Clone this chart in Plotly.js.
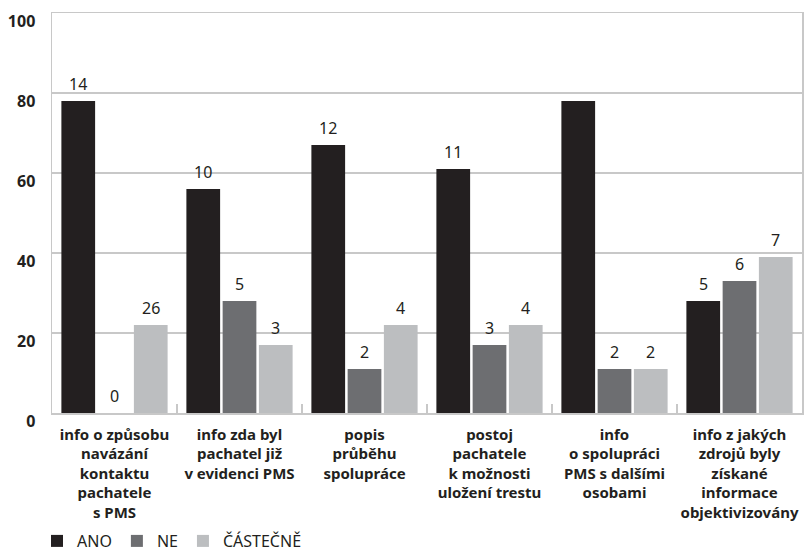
<!DOCTYPE html>
<html>
<head>
<meta charset="utf-8">
<script src="https://cdn.plot.ly/plotly-3.0.1.min.js"></script>
<style>html,body{margin:0;padding:0;background:#fff;}#chart{width:806px;height:556px;}</style>
</head>
<body>
<div id="chart"></div>
<script>
const categories = [
  "info o způsobu<br>navázání<br>kontaktu<br>pachatele<br>s PMS",
  "info zda byl<br>pachatel již<br>v evidenci PMS",
  "popis<br>průběhu<br>spolupráce",
  "postoj<br>pachatele<br>k možnosti<br>uložení trestu",
  "info<br>o spolupráci<br>PMS s dalšími<br>osobami",
  "info z jakých<br>zdrojů byly<br>získané<br>informace<br>objektivizovány"
];
const seriesNames = ["ANO", "NE", "ČÁSTEČNĚ"];
const anoValues = [78, 56, 67, 61, 78, 28];
const neValues = [0, 28, 11, 17, 11, 33];
const castecneValues = [22, 17, 22, 22, 11, 39];
const anoLabels = ["14", "10", "12", "11", "", "5"];
const neLabels = ["0", "5", "2", "3", "2", "6"];
const castecneLabels = ["26", "3", "4", "4", "2", "7"];
const yTicks = [0, 20, 40, 60, 80, 100];

const colors = ["#231f20", "#6d6e71", "#bcbec0"];
const FONT = "Noto Sans, sans-serif";
const values = [anoValues, neValues, castecneValues];
const labels = [anoLabels, neLabels, castecneLabels];

const traces = values.map((v, i) => ({
  type: "bar",
  name: seriesNames[i],
  x: categories,
  y: v,
  marker: {color: colors[i]},
  hoverinfo: "skip"
}));

const plotW = 806 - 52 - 4;
const groupW = plotW / categories.length;
const bargap = 0.13;
const slotW = groupW * (1 - bargap) / 3;

const annotations = [];
labels.forEach((arr, i) => {
  arr.forEach((t, j) => {
    if (t === "") return;
    annotations.push({
      x: categories[j], y: values[i][j],
      xref: "x", yref: "y",
      text: t, showarrow: false,
      xshift: (i - 1) * slotW,
      yshift: 4, yanchor: "bottom",
      font: {family: FONT, size: 16, color: "#231f20"}
    });
  });
});

const layout = {
  width: 806, height: 556,
  margin: {l: 52, r: 4, t: 13, b: 143, autoexpand: false},
  paper_bgcolor: "#fff", plot_bgcolor: "#fff",
  barmode: "group", bargap: bargap, bargroupgap: 0.07,
  font: {family: FONT, color: "#231f20"},
  showlegend: true,
  legend: {orientation: "h", x: -0.02, xanchor: "left", y: -0.32, yanchor: "middle",
           font: {family: FONT, size: 16, color: "#231f20"}, traceorder: "normal"},
  xaxis: {
    type: "category", tickangle: 0, automargin: false,
    showline: true, linecolor: "#c8c8c8", linewidth: 1.5, mirror: true,
    ticks: "inside", tickson: "boundaries", ticklen: 9, tickcolor: "#c8c8c8", tickwidth: 1.5,
    ticklabelstandoff: 7,
    tickfont: {family: FONT, size: 15, color: "#231f20", weight: "bold"},
    showgrid: false, fixedrange: true
  },
  yaxis: {
    range: [0, 100], tickvals: yTicks, ticktext: yTicks.map(String), automargin: false,
    showline: true, linecolor: "#c8c8c8", linewidth: 1.5, mirror: true,
    showgrid: true, gridcolor: "#c8c8c8", gridwidth: 1.5, zeroline: false,
    ticks: "", ticklabelstandoff: 12, ticklabelshift: 8,
    tickfont: {family: FONT, size: 16, color: "#231f20", weight: "bold"},
    fixedrange: true
  },
  annotations: annotations
};

Plotly.newPlot("chart", traces, layout, {displayModeBar: false, staticPlot: true});
</script>
</body>
</html>
